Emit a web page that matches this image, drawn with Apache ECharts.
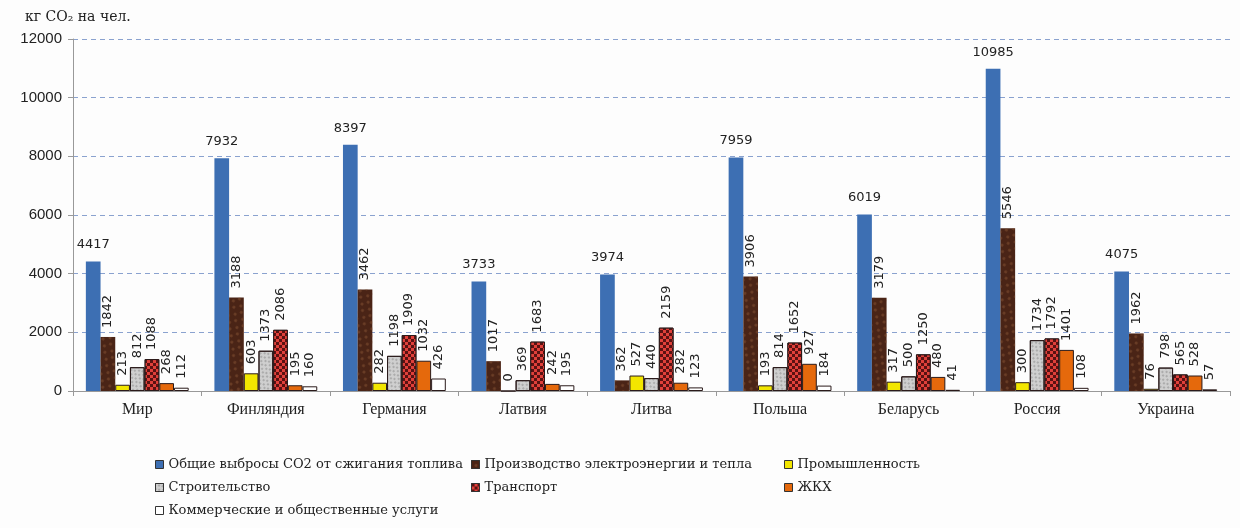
<!DOCTYPE html>
<html><head><meta charset="utf-8">
<script src="https://cdn.jsdelivr.net/npm/echarts@6/dist/echarts.min.js"></script>
<style>html,body{margin:0;padding:0;background:#fdfdfd;}#c{width:1240px;height:528px;}</style>
</head><body><div id="c"></div>
<script>
const categories = ['Мир','Финляндия','Германия','Латвия','Литва','Польша','Беларусь','Россия','Украина'];
const seriesNames = ['Общие выбросы CO2 от сжигания топлива','Производство электроэнергии и тепла','Промышленность','Строительство','Транспорт','ЖКХ','Коммерческие и общественные услуги'];
const total      = [4417, 7932, 8397, 3733, 3974, 7959, 6019, 10985, 4075];
const power      = [1842, 3188, 3462, 1017, 362, 3906, 3179, 5546, 1962];
const industry   = [213, 603, 282, 0, 527, 193, 317, 300, 76];
const construction = [812, 1373, 1198, 369, 440, 814, 500, 1734, 798];
const transport  = [1088, 2086, 1909, 1683, 2159, 1652, 1250, 1792, 565];
const housing    = [268, 195, 1032, 242, 282, 927, 480, 1401, 528];
const commercial = [112, 160, 426, 195, 123, 184, 41, 108, 57];
const yTicks = [0, 2000, 4000, 6000, 8000, 10000, 12000];

const values = [total, power, industry, construction, transport, housing, commercial];
const colors = ['#3d6fb3','#4a2416','#f2e600','#cfcfcf','#5a1212','#e5690c','#ffffff'];
const decals = [
  null,
  {symbol:'circle', symbolSize:1, color:'rgba(130,80,50,0.6)', dashArrayX:[[5,4],[0,4,5,0]], dashArrayY:[3,2], rotation:0.6},
  null,
  {symbol:'circle', symbolSize:0.9, color:'rgba(120,120,120,0.6)', dashArrayX:[[2,3],[0,2,2,1]], dashArrayY:[2,1], rotation:-0.8},
  {symbol:'rect', symbolSize:1, color:'#e0403a', dashArrayX:[[3,3],[0,3,3,0]], dashArrayY:[3,0]},
  null, null
];
const borders = [0, 0, 1, 1, 1, 1, 1];

const series = seriesNames.map((name, i) => {
  const itemStyle = {color: colors[i], borderColor: '#2a1a1a', borderWidth: borders[i]};
  if (decals[i]) itemStyle.decal = decals[i];
  return {
    name: name,
    type: 'bar',
    data: values[i],
    barGap: '0%',
    barCategoryGap: '20%',
    itemStyle: itemStyle,
    label: i === 0 ? {
      show: true, position: 'top', distance: 10,
      fontFamily: 'DejaVu Sans', fontSize: 13, color: '#222'
    } : {
      show: true, position: 'top', rotate: 90, align: 'left', verticalAlign: 'middle', distance: 9,
      fontFamily: 'DejaVu Sans', fontSize: 13, color: '#222'
    }
  };
});

const legendText = {fontFamily: 'DejaVu Serif', fontSize: 13, color: '#222'};
const legendBase = {orient: 'vertical', top: 453, itemWidth: 8, itemHeight: 8, itemGap: 10, icon: 'rect', textStyle: legendText, selectedMode: false,
  itemStyle: {borderColor: '#333', borderWidth: 1}};

const chart = echarts.init(document.getElementById('c'), null, {renderer: 'canvas'});
chart.setOption({
  backgroundColor: '#fdfdfd',
  animation: false,
  title: {text: 'кг CO₂ на чел.', left: 20, top: 5, textStyle: {fontFamily: 'DejaVu Serif', fontSize: 14, fontWeight: 'normal', color: '#222'}},
  legend: [
    Object.assign({}, legendBase, {left: 150, data: [seriesNames[0], seriesNames[3], seriesNames[6]]}),
    Object.assign({}, legendBase, {left: 466, data: [seriesNames[1], seriesNames[4]]}),
    Object.assign({}, legendBase, {left: 779, data: [seriesNames[2], seriesNames[5]]})
  ],
  grid: {left: 73, right: 10, top: 39, bottom: 137, containLabel: false},
  xAxis: {
    type: 'category', data: categories,
    axisLine: {lineStyle: {color: '#999'}},
    axisTick: {show: true, length: 5, lineStyle: {color: '#999'}},
    axisLabel: {interval: 0, margin: 11, fontFamily: 'Liberation Serif', fontSize: 16, color: '#222'}
  },
  yAxis: {
    type: 'value', min: yTicks[0], max: yTicks[yTicks.length - 1], interval: 2000,
    axisLine: {show: true, lineStyle: {color: '#999'}},
    axisTick: {show: true, length: 5, lineStyle: {color: '#999'}},
    axisLabel: {margin: 11, fontFamily: 'Liberation Sans', fontSize: 15, color: '#222', formatter: v => String(v)},
    splitLine: {lineStyle: {color: '#8aa2cf', type: [5, 4], width: 1}}
  },
  series: series
});
</script></body></html>
